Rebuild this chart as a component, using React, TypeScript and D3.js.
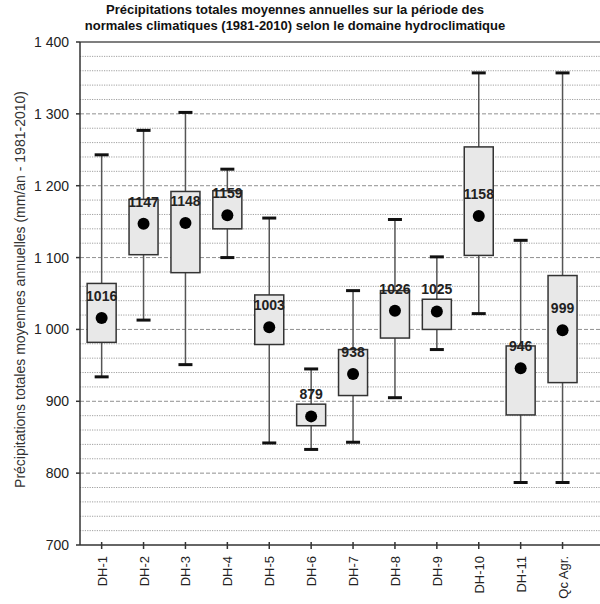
import React from "react";
import * as d3 from "d3";

const categories = ["DH-1", "DH-2", "DH-3", "DH-4", "DH-5", "DH-6", "DH-7", "DH-8", "DH-9", "DH-10", "DH-11", "Qc Agr."];
const whiskerMax = [1243, 1277, 1302, 1223, 1155, 945, 1054, 1153, 1101, 1357, 1124, 1357];
const q3 = [1064, 1181, 1192, 1193, 1048, 896, 972, 1054, 1042, 1254, 977, 1075];
const q1 = [982, 1104, 1079, 1140, 979, 866, 908, 988, 1000, 1103, 881, 926];
const whiskerMin = [934, 1013, 951, 1100, 842, 833, 843, 905, 972, 1022, 787, 787];
const means = [1016, 1147, 1148, 1159, 1003, 879, 938, 1026, 1025, 1158, 946, 999];
const yTicks = [700, 800, 900, 1000, 1100, 1200, 1300, 1400];
const title = [
  "Précipitations totales moyennes annuelles sur la période des",
  "normales climatiques (1981-2010) selon le domaine hydroclimatique",
];
const yLabel = "Précipitations totales moyennes annuelles (mm/an - 1981-2010)";

const fmt = (v: number) => {
  const s = String(v);
  return s.length > 3 ? s.slice(0, s.length - 3) + "\u00a0" + s.slice(-3) : s;
};

export default function App() {
  const W = 600, H = 604;
  const left = 80, right = 600, top = 42, bottom = 545;
  const bandW = 41.9;
  const x = d3.scaleBand<string>().domain(categories).range([80.7, 80.7 + bandW * categories.length]);
  const y = d3.scaleLinear().domain([700, 1400]).range([bottom, top]);
  const minor = d3.range(700, 1401, 20).filter((v) => v % 100 !== 0);
  const boxW = 29;
  const capW = 14;
  const font = "Arial, 'Liberation Sans', sans-serif";
  const cx = (i: number) => (x(categories[i]) as number) + x.bandwidth() / 2;

  return (
    <svg width={W} height={H} style={{ position: "absolute", left: 0, top: 0 }} fontFamily={font}>
      <rect x={0} y={0} width={W} height={H} fill="#fff" />
      {title.map((t, i) => (
        <text key={i} x={295} y={14 + i * 16} textAnchor="middle" fontSize={13} fontWeight="bold" fill="#111">
          {t}
        </text>
      ))}
      {minor.map((v) => (
        <line key={"m" + v} x1={left} x2={right} y1={y(v)} y2={y(v)} stroke="#a0a0a0" strokeWidth={1} strokeDasharray="1.2,1.2" />
      ))}
      {yTicks.filter((v) => v !== 700 && v !== 1400).map((v) => (
        <line key={"M" + v} x1={left} x2={right} y1={y(v)} y2={y(v)} stroke="#909090" strokeWidth={1} strokeDasharray="4,2" />
      ))}
      <line x1={left} x2={right} y1={top} y2={top} stroke="#555" strokeWidth={1.5} />
      <line x1={left} x2={right} y1={bottom} y2={bottom} stroke="#333" strokeWidth={1.5} />
      <line x1={left} x2={left} y1={top} y2={bottom} stroke="#333" strokeWidth={1.5} />
      {yTicks.map((v) => (
        <g key={"t" + v}>
          <line x1={left - 4} x2={left} y1={y(v)} y2={y(v)} stroke="#333" strokeWidth={1.5} />
          <text x={left - 11} y={y(v) + 5} textAnchor="end" fontSize={14} fill="#222">
            {fmt(v)}
          </text>
        </g>
      ))}
      <text
        transform={`translate(25,${(top + bottom) / 2 - 4}) rotate(-90)`}
        textAnchor="middle"
        fontSize={14}
        fill="#333"
      >
        {yLabel}
      </text>
      {categories.map((c, i) => (
        <g key={c}>
          <line x1={cx(i)} x2={cx(i)} y1={bottom - 3} y2={bottom + 4} stroke="#333" strokeWidth={1.5} />
          <text transform={`translate(${cx(i) + 5},${bottom + 11}) rotate(-90)`} textAnchor="end" fontSize={13} fill="#222">
            {c}
          </text>
        </g>
      ))}
      {categories.map((c, i) => {
        const X = cx(i);
        return (
          <g key={"b" + c}>
            <line x1={X} x2={X} y1={y(whiskerMax[i])} y2={y(whiskerMin[i])} stroke="#555" strokeWidth={1.5} />
            <line x1={X - capW / 2} x2={X + capW / 2} y1={y(whiskerMax[i])} y2={y(whiskerMax[i])} stroke="#111" strokeWidth={3} />
            <line x1={X - capW / 2} x2={X + capW / 2} y1={y(whiskerMin[i])} y2={y(whiskerMin[i])} stroke="#111" strokeWidth={3} />
            <rect x={X - boxW / 2} y={y(q3[i])} width={boxW} height={y(q1[i]) - y(q3[i])} fill="#e8e8e8" stroke="#333" strokeWidth={1.5} />
            <circle cx={X} cy={y(means[i])} r={6} fill="#000" />
            <text x={X} y={y(means[i]) - 17} textAnchor="middle" fontSize={14} fontWeight="bold" fill="#222">
              {means[i]}
            </text>
          </g>
        );
      })}
    </svg>
  );
}
